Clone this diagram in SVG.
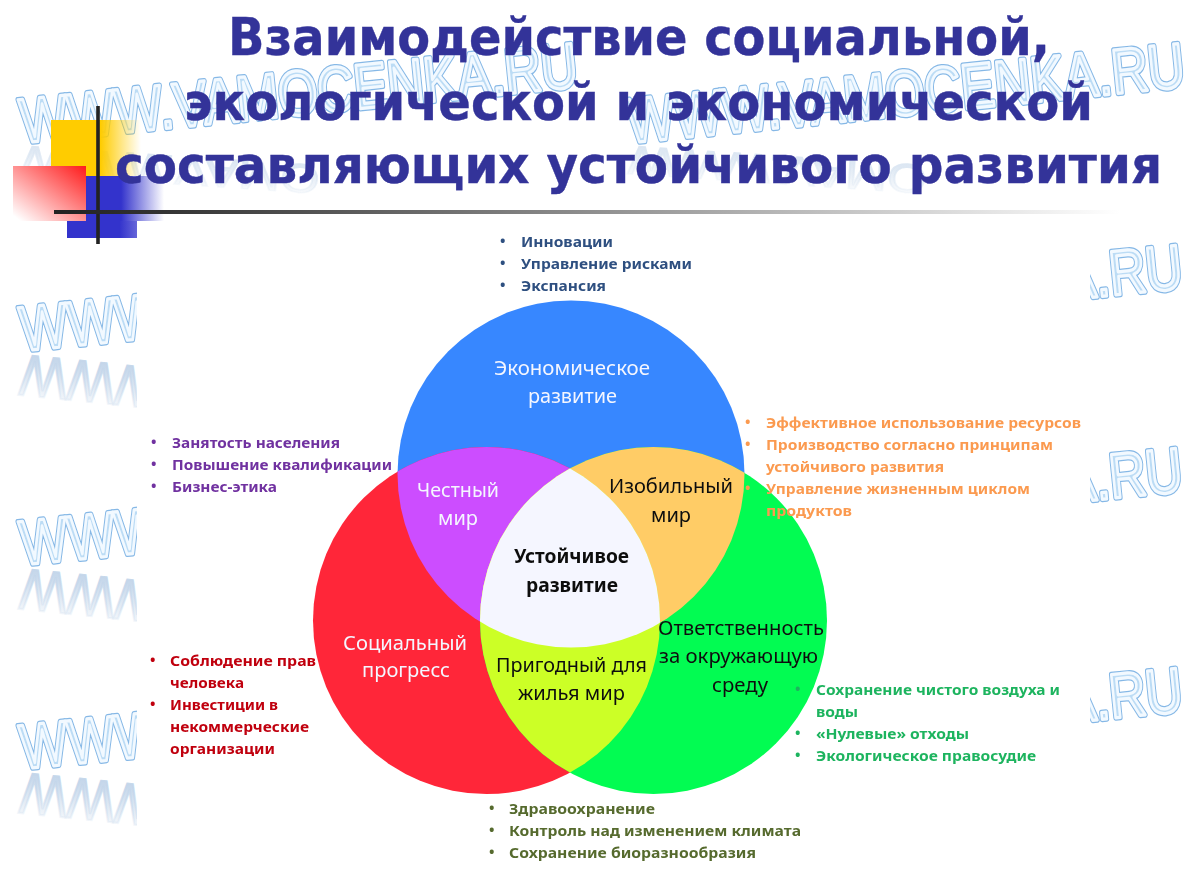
<svg xmlns="http://www.w3.org/2000/svg" xmlns:xlink="http://www.w3.org/1999/xlink" width="1195" height="875" viewBox="0 0 1195 875">
<style>
text{font-family:"Noto Sans","DejaVu Sans",sans-serif}
.t{font-family:"DejaVu Sans",sans-serif;font-weight:700;font-size:52px;fill:#333399;stroke:#333399;stroke-width:0.4}
.wt{font-family:"Liberation Sans",Arial,sans-serif;font-size:50.500px}
.wo{fill:none;stroke:#86b8e6;stroke-width:4.600;stroke-linejoin:round}
.wi{fill:#bcdcf5;stroke:#f2f9ff;stroke-width:2.600;stroke-linejoin:round}
.wr{fill:url(#refl);stroke:url(#refl);stroke-width:2}
.faint{opacity:0.6}
.l{font-size:20px;fill:#111;filter:url(#soft)}
.lw{fill:#f4f6ff}
.li{font-size:14.500px;font-weight:700}
.soft{filter:url(#soft)}
.c1{fill:#2f5080}.c2{fill:#7030a0}.c3{fill:#fb9a50}.c4{fill:#1fb45e}.c5{fill:#c00010}.c6{fill:#566b2e}
</style>
<defs>
<filter id="soft" x="-5%" y="-5%" width="110%" height="110%"><feGaussianBlur stdDeviation="0.3"/></filter>
<linearGradient id="refl" x1="0" y1="0" x2="0" y2="1"><stop offset="0" stop-color="#c4d6ea" stop-opacity="0"/><stop offset="0.75" stop-color="#c4d6ea" stop-opacity="0.95"/></linearGradient>
<linearGradient id="gy" x1="0" x2="1" y1="0" y2="0"><stop offset="0.55" stop-color="#ffcc00"/><stop offset="1" stop-color="#ffcc00" stop-opacity="0"/></linearGradient>
<linearGradient id="gr" x1="1" x2="0" y1="0" y2="1"><stop offset="0" stop-color="#ff1a1a"/><stop offset="0.95" stop-color="#ff1a1a" stop-opacity="0"/></linearGradient>
<linearGradient id="gb" x1="0" x2="1" y1="0" y2="0"><stop offset="0.45" stop-color="#3333cc"/><stop offset="1" stop-color="#3333cc" stop-opacity="0"/></linearGradient>
<linearGradient id="gb2" x1="0" x2="1" y1="0" y2="0"><stop offset="0.75" stop-color="#3333cc"/><stop offset="1" stop-color="#3333cc" stop-opacity="0.75"/></linearGradient>
<linearGradient id="gl" x1="0" x2="1" y1="0" y2="0"><stop offset="0" stop-color="#222"/><stop offset="0.1" stop-color="#333"/><stop offset="1" stop-color="#fff"/></linearGradient>
<circle id="cb" cx="571" cy="474" r="173.500"/>
<circle id="cr" cx="486.500" cy="620.500" r="173.500"/>
<circle id="cg" cx="653.500" cy="620.500" r="173.500"/>
<clipPath id="kb"><use href="#cb"/></clipPath>
<clipPath id="kr"><use href="#cr"/></clipPath>
<clipPath id="kl"><rect x="0" y="230" width="137" height="645"/></clipPath>
<clipPath id="krt"><rect x="1090" y="230" width="105" height="645"/></clipPath>
<text id="w1" class="wt">WWW.VAMOCENKA.RU</text>
<text id="w2" class="wt">WWW</text>
<text id="w3" class="wt" text-anchor="end">A.RU</text>
<text id="w4" class="wt">WWW.VAMO</text>
</defs>

<g id="watermark">
 <g transform="translate(22,143) rotate(-5.800) scale(1,1.250)"><use href="#w1" class="wo"/><use href="#w1" class="wi"/></g>
 <g transform="translate(629,143) rotate(-5.800) scale(1,1.250)"><use href="#w1" class="wo"/><use href="#w1" class="wi"/></g>
 <g class="faint" transform="translate(22,146) rotate(3.800) scale(1,-0.800)"><use href="#w4" class="wr"/></g>
 <g class="faint" transform="translate(629,146) rotate(3.800) scale(1,-0.800)"><use href="#w4" class="wr"/></g>
 <g clip-path="url(#kl)">
  <g transform="translate(22,351) rotate(-5.800) scale(1,1.250)"><use href="#w2" class="wo"/><use href="#w2" class="wi"/></g>
  <g transform="translate(22,565) rotate(-5.800) scale(1,1.250)"><use href="#w2" class="wo"/><use href="#w2" class="wi"/></g>
  <g transform="translate(22,769) rotate(-5.800) scale(1,1.250)"><use href="#w2" class="wo"/><use href="#w2" class="wi"/></g>
  <g transform="translate(22,355) rotate(5.800) scale(1,-1.150)"><use href="#w2" class="wr"/></g>
  <g transform="translate(22,569) rotate(5.800) scale(1,-1.150)"><use href="#w2" class="wr"/></g>
  <g transform="translate(22,773) rotate(5.800) scale(1,-1.150)"><use href="#w2" class="wr"/></g>
 </g>
 <g clip-path="url(#krt)">
  <g transform="translate(1184,288) rotate(-5.800) scale(1,1.250)"><use href="#w3" class="wo"/><use href="#w3" class="wi"/></g>
  <g transform="translate(1184,491) rotate(-5.800) scale(1,1.250)"><use href="#w3" class="wo"/><use href="#w3" class="wi"/></g>
  <g transform="translate(1184,711) rotate(-5.800) scale(1,1.250)"><use href="#w3" class="wo"/><use href="#w3" class="wi"/></g>
 </g>
</g>

<g id="logo">
 <rect x="51" y="120" width="90" height="56" fill="url(#gy)"/>
 <rect x="86" y="176" width="78" height="45" fill="url(#gb)"/>
 <rect x="67" y="221" width="70" height="17" fill="url(#gb2)"/>
 <rect x="13" y="166" width="73" height="55" fill="#fff"/>
 <rect x="13" y="166" width="73" height="55" fill="url(#gr)"/>
 <rect x="96.200" y="106" width="3.600" height="138" fill="#222"/>
 <rect x="54" y="210" width="1066" height="4" fill="url(#gl)"/>
</g>

<g id="title">
 <text class="t" x="228" y="55" textLength="822" lengthAdjust="spacingAndGlyphs">Взаимодействие социальной,</text>
 <text class="t" x="184" y="120" textLength="909" lengthAdjust="spacingAndGlyphs">экологической и экономической</text>
 <text class="t" x="115" y="183" textLength="1047" lengthAdjust="spacingAndGlyphs">составляющих устойчивого развития</text>
</g>

<g id="list-social" class="li c5 soft">
 <text x="150" y="665">•</text><text x="170" y="666" textLength="146" lengthAdjust="spacingAndGlyphs">Соблюдение прав</text>
 <text x="170" y="688" textLength="74" lengthAdjust="spacingAndGlyphs">человека</text>
 <text x="150" y="709">•</text><text x="170" y="710" textLength="108" lengthAdjust="spacingAndGlyphs">Инвестиции в</text>
 <text x="170" y="732" textLength="139" lengthAdjust="spacingAndGlyphs">некоммерческие</text>
 <text x="170" y="754" textLength="105" lengthAdjust="spacingAndGlyphs">организации</text>
</g>

<g id="venn">
 <g id="economic"><use href="#cb" fill="#3787ff"/>
  <text class="l lw" x="494" y="375" textLength="156" lengthAdjust="spacingAndGlyphs">Экономическое</text>
  <text class="l lw" x="528" y="403" textLength="89" lengthAdjust="spacingAndGlyphs">развитие</text></g>
 <g id="social"><use href="#cr" fill="#ff2639"/>
  <text class="l lw" x="343" y="650" textLength="124" lengthAdjust="spacingAndGlyphs">Социальный</text>
  <text class="l lw" x="362" y="677" textLength="88" lengthAdjust="spacingAndGlyphs">прогресс</text></g>
 <g id="ecology"><use href="#cg" fill="#02fc52"/></g>
 <g id="fair"><g clip-path="url(#kb)"><use href="#cr" fill="#cc4dff"/></g>
  <text class="l lw" x="417" y="497" textLength="82" lengthAdjust="spacingAndGlyphs">Честный</text>
  <text class="l lw" x="438" y="525" textLength="40" lengthAdjust="spacingAndGlyphs">мир</text></g>
 <g id="abundant"><g clip-path="url(#kb)"><use href="#cg" fill="#ffcc66"/></g>
  <text class="l" x="609" y="493" textLength="124" lengthAdjust="spacingAndGlyphs">Изобильный</text>
  <text class="l" x="651" y="522" textLength="40" lengthAdjust="spacingAndGlyphs">мир</text></g>
 <g id="livable"><g clip-path="url(#kr)"><use href="#cg" fill="#ccff26"/></g>
  <text class="l" x="496" y="672" textLength="151" lengthAdjust="spacingAndGlyphs">Пригодный для</text>
  <text class="l" x="518" y="700" textLength="107" lengthAdjust="spacingAndGlyphs">жилья мир</text></g>
 <g id="center"><g clip-path="url(#kb)"><g clip-path="url(#kr)"><use href="#cg" fill="#f5f6ff"/></g></g>
  <text class="l" style="font-weight:700" x="514" y="563" textLength="115" lengthAdjust="spacingAndGlyphs">Устойчивое</text>
  <text class="l" style="font-weight:700" x="526" y="592" textLength="92" lengthAdjust="spacingAndGlyphs">развитие</text></g>
 <g id="responsibility">
  <text class="l" x="658" y="635" textLength="166" lengthAdjust="spacingAndGlyphs">Ответственность</text>
  <text class="l" x="659" y="663" textLength="159" lengthAdjust="spacingAndGlyphs">за окружающую</text>
  <text class="l" x="712" y="692" textLength="56" lengthAdjust="spacingAndGlyphs">среду</text></g>
</g>

<g id="list-economic" class="li c1 soft">
 <text x="500" y="246">•</text><text x="521" y="247" textLength="92" lengthAdjust="spacingAndGlyphs">Инновации</text>
 <text x="500" y="268">•</text><text x="521" y="269" textLength="171" lengthAdjust="spacingAndGlyphs">Управление рисками</text>
 <text x="500" y="290">•</text><text x="521" y="291" textLength="85" lengthAdjust="spacingAndGlyphs">Экспансия</text>
</g>
<g id="list-fair" class="li c2 soft">
 <text x="151" y="447">•</text><text x="172" y="448" textLength="168" lengthAdjust="spacingAndGlyphs">Занятость населения</text>
 <text x="151" y="469">•</text><text x="172" y="470" textLength="220" lengthAdjust="spacingAndGlyphs">Повышение квалификации</text>
 <text x="151" y="491">•</text><text x="172" y="492" textLength="105" lengthAdjust="spacingAndGlyphs">Бизнес-этика</text>
</g>
<g id="list-abundant" class="li c3 soft">
 <text x="745" y="427">•</text><text x="766" y="428" textLength="315" lengthAdjust="spacingAndGlyphs">Эффективное использование ресурсов</text>
 <text x="745" y="449">•</text><text x="766" y="450" textLength="287" lengthAdjust="spacingAndGlyphs">Производство согласно принципам</text>
 <text x="766" y="472" textLength="178" lengthAdjust="spacingAndGlyphs">устойчивого развития</text>
 <text x="745" y="493">•</text><text x="766" y="494" textLength="264" lengthAdjust="spacingAndGlyphs">Управление жизненным циклом</text>
 <text x="766" y="516" textLength="86" lengthAdjust="spacingAndGlyphs">продуктов</text>
</g>
<g id="list-ecology" class="li c4 soft">
 <text x="795" y="694">•</text><text x="816" y="695" textLength="244" lengthAdjust="spacingAndGlyphs">Сохранение чистого воздуха и</text>
 <text x="816" y="717" textLength="42" lengthAdjust="spacingAndGlyphs">воды</text>
 <text x="795" y="738">•</text><text x="816" y="739" textLength="153" lengthAdjust="spacingAndGlyphs">«Нулевые» отходы</text>
 <text x="795" y="760">•</text><text x="816" y="761" textLength="220" lengthAdjust="spacingAndGlyphs">Экологическое правосудие</text>
</g>
<g id="list-livable" class="li c6 soft">
 <text x="489" y="813">•</text><text x="509" y="814" textLength="146" lengthAdjust="spacingAndGlyphs">Здравоохранение</text>
 <text x="489" y="835">•</text><text x="509" y="836" textLength="292" lengthAdjust="spacingAndGlyphs">Контроль  над изменением климата</text>
 <text x="489" y="857">•</text><text x="509" y="858" textLength="247" lengthAdjust="spacingAndGlyphs">Сохранение биоразнообразия</text>
</g>
</svg>
